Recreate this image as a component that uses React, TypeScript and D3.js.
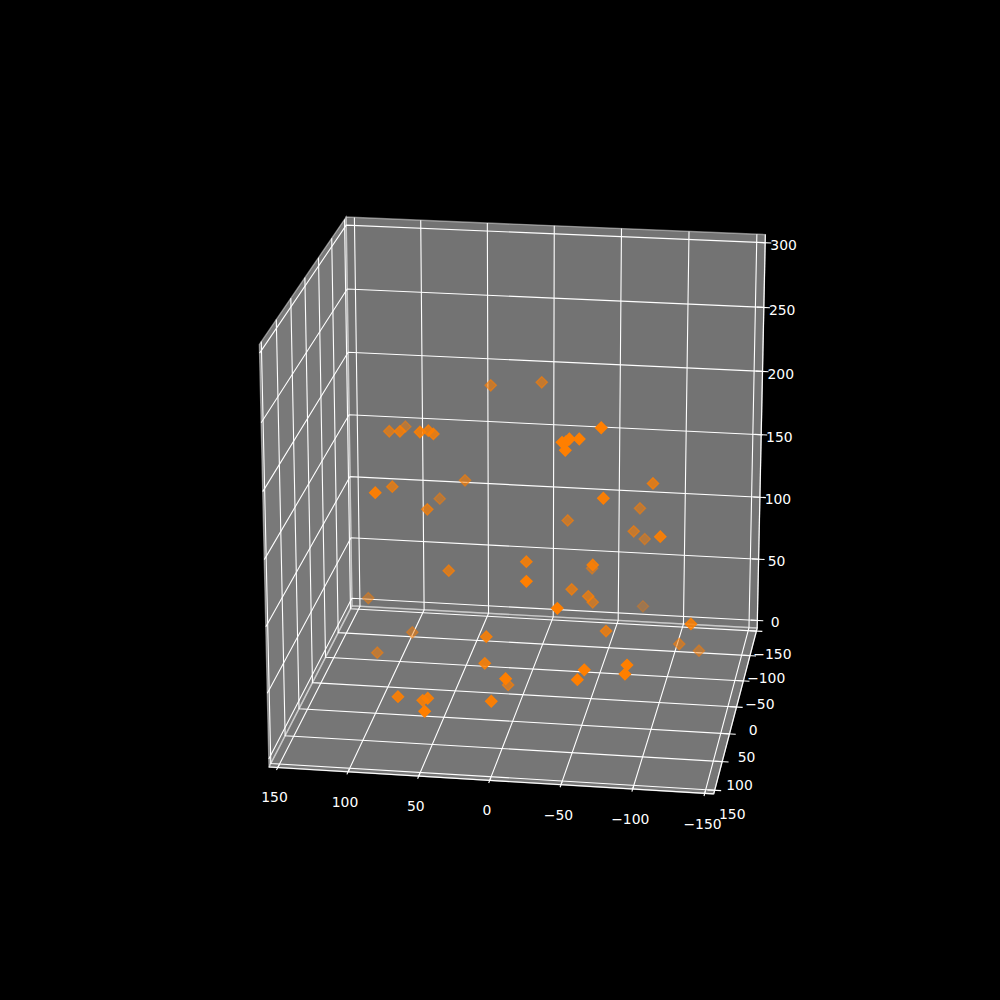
import React, { useEffect, useRef } from 'react';
import * as d3 from 'd3';

const xTicks = [-150, -100, -50, 0, 50, 100, 150];
const yTicks = [-150, -100, -50, 0, 50, 100, 150];
const zTicks = [0, 50, 100, 150, 200, 250, 300];

// scatter values
const xValues = [
  37.6, 106.0, 88.0, 104.8, 70.5, 68.0, 64.3, 52.7, 92.6, 98.3, 72.4, 76.8, 0.7, -63.9,
  -49.2, -42.4, -37.5, -40.0, -40.2, -90.4, -65.4, -73.0, -23.3, -71.6, -75.4, -104.0, 54.8, 129.1,
  91.9, 16.6, -8.8, -17.9, -55.5, -37.8, -33.9, -46.0, -44.5, -69.6, -40.1, -62.4, -126.5, -106.8,
  -119.5, -90.0, -88.9, -60.8, -56.4, 113.4, 16.7, -7.1, 10.8, 73.0, 58.9, 52.2, 47.4, 4.9,
];
const yValues = [
  -91.5, -50.1, 5.6, -109.8, 22.6, 2.4, 2.7, -65.0, 79.5, -17.8, -16.0, -95.4, -97.8, 59.8,
  64.7, 65.7, 67.3, 68.8, 66.7, -27.5, 57.3, -96.0, -66.1, -70.5, -107.7, 41.6, -3.2, -81.0,
  -58.5, 65.0, 42.7, 103.8, 36.6, -94.5, -11.7, -11.8, -48.4, -150.0, 107.0, 13.6, 40.5, -66.1,
  -85.4, 113.3, 115.6, 118.8, 121.8, -31.0, 71.6, 129.0, 0.9, 107.3, 87.1, 104.6, 145.0, 117.2,
];
const zValues = [
  200.9, 175.7, 195.7, 158.9, 201.9, 196.1, 193.9, 135.0, 175.1, 144.4, 128.9, 108.3, 203.0, 224.7,
  217.3, 217.3, 215.1, 209.9, 215.5, 153.6, 171.4, 108.5, 107.2, 99.6, 79.9, 138.8, 86.9, 31.0,
  14.4, 64.6, 114.9, 123.8, 112.7, 59.3, 74.2, 69.4, 50.4, 9.0, 106.1, 53.2, 73.1, 13.8,
  1.4, 68.8, 62.9, 65.7, 59.2, 7.7, 46.7, 59.8, 1.2, 32.2, 21.9, 31.2, 38.4, 37.1,
];

const ELEV = 20 * Math.PI / 180;
const AZIM = 98.5 * Math.PI / 180;
const DIST = 10;
const toCamera = [Math.cos(ELEV) * Math.cos(AZIM), Math.cos(ELEV) * Math.sin(AZIM), Math.sin(ELEV)];
const right = [-Math.sin(AZIM), Math.cos(AZIM), 0];
const up = [-Math.sin(ELEV) * Math.cos(AZIM), -Math.sin(ELEV) * Math.sin(AZIM), Math.cos(ELEV)];

const boxX = d3.scaleLinear().domain([-150, 150]).range([-0.5, 0.5]);
const boxY = d3.scaleLinear().domain([-150, 150]).range([-0.5, 0.5]);
const boxZ = d3.scaleLinear().domain([0, 300]).range([-0.5, 0.5]);
const screenX = d3.scaleLinear().domain([-0.095, 0.09]).range([125, 900]);
const screenY = d3.scaleLinear().domain([-0.095, 0.09]).range([890, 120]);

const project = (x: number, y: number, z: number) => {
  const p = [boxX(x), boxY(y), boxZ(z)];
  const dot = (a: number[]) => a[0] * p[0] + a[1] * p[1] + a[2] * p[2];
  const depth = DIST - dot(toCamera);
  return { sx: screenX(dot(right) / depth), sy: screenY(dot(up) / depth), depth };
};

const App: React.FC = () => {
  const svgRef = useRef<SVGSVGElement>(null);

  useEffect(() => {
    const svg = d3.select(svgRef.current);
    svg.selectAll('*').remove();

    // panes stick out of the axis limits by 1/48 of the range
    const lo = -156.25, hi = 156.25, zLo = -6.25, zHi = 306.25;
    const toPath = (pts: number[][]) => d3.line()(pts.map(q => {
      const s = project(q[0], q[1], q[2]);
      return [s.sx, s.sy] as [number, number];
    }));

    const panes = [
      { grey: 0.95, pts: [[hi, lo, zLo], [hi, hi, zLo], [hi, hi, zHi], [hi, lo, zHi]] },
      { grey: 0.9, pts: [[lo, lo, zLo], [hi, lo, zLo], [hi, lo, zHi], [lo, lo, zHi]] },
      { grey: 0.925, pts: [[lo, lo, zLo], [hi, lo, zLo], [hi, hi, zLo], [lo, hi, zLo]] },
    ];
    panes.forEach(p => {
      const c = d3.rgb(p.grey * 255, p.grey * 255, p.grey * 255).formatHex();
      svg.append('path').attr('d', toPath(p.pts) + 'Z')
        .attr('fill', c).attr('fill-opacity', 0.5)
        .attr('stroke', c).attr('stroke-opacity', 0.5).attr('stroke-width', 1.39);
    });

    const line = (pts: number[][]) => svg.append('path').attr('d', toPath(pts))
      .attr('fill', 'none').attr('stroke', '#fff').attr('stroke-width', 1.11);

    // axis lines
    line([[hi, hi, zLo], [lo, hi, zLo]]);
    line([[lo, hi, zLo], [lo, lo, zLo]]);
    line([[lo, lo, zLo], [lo, lo, zHi]]);

    const label = (x: number, y: number, z: number, t: number) => {
      const s = project(x, y, z);
      svg.append('text').attr('x', s.sx).attr('y', s.sy + 11.5)
        .attr('text-anchor', 'middle').attr('fill', '#fff')
        .attr('font-family', 'DejaVu Sans').attr('font-size', 13.9)
        .text(String(t).replace('-', '\u2212'));
    };

    // grid, tick and label for each axis
    const out = 4.5, inward = 5, pad = 12.4;
    xTicks.forEach(t => {
      line([[t, hi, zLo], [t, lo, zLo], [t, lo, zHi]]);
      line([[t, hi + out, zLo], [t, hi - inward, zLo]]);
      label(t, hi + pad, zLo - pad, t);
    });
    yTicks.forEach(t => {
      line([[lo, t, zLo], [hi, t, zLo], [hi, t, zHi]]);
      line([[lo - out, t, zLo], [lo + inward, t, zLo]]);
      label(lo - pad, t, zLo - pad, t);
    });
    zTicks.forEach(t => {
      line([[lo, lo, t], [hi, lo, t], [hi, hi, t]]);
      line([[lo - out, lo, t], [lo + inward, lo, t]]);
      label(lo - pad, lo - pad, t, t);
    });

    // scatter, far points first and fainter
    const points = xValues.map((x, i) => project(x, yValues[i], zValues[i]));
    const shade = d3.scaleLinear()
      .domain(d3.extent(points, d => d.depth) as [number, number])
      .range([1, 0.3]);
    const diamond = d3.symbol(d3.symbolSquare, 64)();
    svg.append('g').selectAll('path')
      .data(points.slice().sort((a, b) => b.depth - a.depth))
      .enter()
      .append('path')
      .attr('d', diamond)
      .attr('transform', d => `translate(${d.sx},${d.sy}) rotate(45)`)
      .attr('fill', '#ff7f00').attr('fill-opacity', d => shade(d.depth))
      .attr('stroke', '#ff7f00').attr('stroke-opacity', d => shade(d.depth))
      .attr('stroke-width', 1.39);
  }, []);

  return <svg ref={svgRef} width={1000} height={1000} style={{ position: 'absolute', left: 0, top: 0, background: '#000' }} />;
};

export default App;
